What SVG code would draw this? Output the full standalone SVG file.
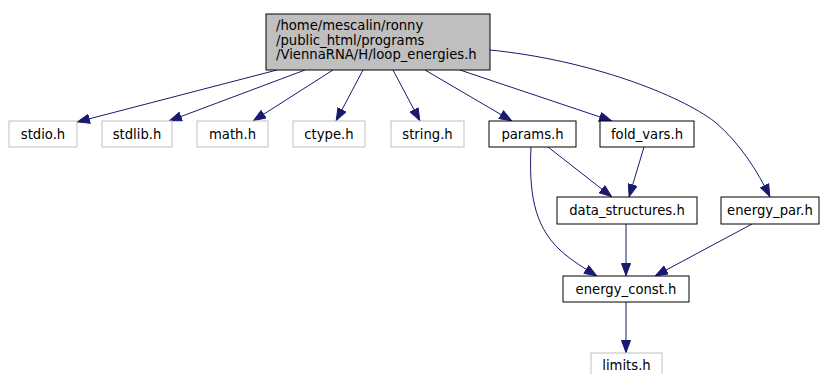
<svg xmlns="http://www.w3.org/2000/svg" width="820" height="374" viewBox="0 0 820 374">
<defs>
<style>
.n rect{fill:#ffffff;stroke:#000000;stroke-width:1}
.g rect{fill:#ffffff;stroke:#bfbfbf;stroke-width:1}
.root rect{fill:#bfbfbf;stroke:#000000;stroke-width:1}
text{font-family:"DejaVu Sans",sans-serif;font-size:13.2px;fill:#000000}
.c text{text-anchor:middle}
.e path{fill:none;stroke:#191970;stroke-width:1;marker-end:url(#ah)}
</style>
<marker id="ah" markerUnits="userSpaceOnUse" markerWidth="13" markerHeight="10" viewBox="0 0 13 10" refX="13" refY="5" orient="auto">
<path d="M0.5,0.5 L12.5,5 L0.5,9.5 z" fill="#191970" stroke="#191970" stroke-width="1"/>
</marker>
</defs>
<rect width="820" height="374" fill="#ffffff"/>
<g id="edges" class="e">
<path d="M277,70 L77,122"/>
<path d="M305,70 L169,121"/>
<path d="M333,70 L253,121"/>
<path d="M363,70 L336,121"/>
<path d="M393,70 L420,121"/>
<path d="M425,70 L512,121"/>
<path d="M460,70 L612,121"/>
<path d="M490,50 C590,60 680,95 715,122 C740,143 758,172 770,197"/>
<path d="M548,147 L612,197"/>
<path d="M644,147 L629,197"/>
<path d="M531,147 C529,190 533,225 560,250 C572,261 584,268 597,276"/>
<path d="M626,224 L626,276"/>
<path d="M752,224 L655,276"/>
<path d="M626,302 L626,353"/>
</g>
<g id="node-root" class="root">
<rect x="266" y="14" width="224" height="56"/>
<text x="276" y="30">/home/mescalin/ronny</text>
<text x="276" y="44.5">/public_html/programs</text>
<text x="276" y="59">/ViennaRNA/H/loop_energies.h</text>
</g>
<g id="node-stdio" class="g c"><rect x="9" y="121" width="68" height="26"/><text x="43" y="138.5">stdio.h</text></g>
<g id="node-stdlib" class="g c"><rect x="102" y="121" width="70" height="26"/><text x="137" y="138.5">stdlib.h</text></g>
<g id="node-math" class="g c"><rect x="197" y="121" width="71" height="26"/><text x="232.5" y="138.5">math.h</text></g>
<g id="node-ctype" class="g c"><rect x="293" y="121" width="72" height="26"/><text x="329" y="138.5">ctype.h</text></g>
<g id="node-string" class="g c"><rect x="391" y="121" width="73" height="26"/><text x="427.5" y="138.5">string.h</text></g>
<g id="node-params" class="n c"><rect x="489" y="121" width="87" height="26"/><text x="532.5" y="138.5">params.h</text></g>
<g id="node-fold_vars" class="n c"><rect x="600" y="121" width="94" height="26"/><text x="647" y="138.5">fold_vars.h</text></g>
<g id="node-data_structures" class="n c"><rect x="557" y="197" width="140" height="27"/><text x="627" y="215">data_structures.h</text></g>
<g id="node-energy_par" class="n c"><rect x="721" y="197" width="98" height="27"/><text x="770" y="215">energy_par.h</text></g>
<g id="node-energy_const" class="n c"><rect x="563" y="276" width="126" height="26"/><text x="626" y="293.5">energy_const.h</text></g>
<g id="node-limits" class="g c"><rect x="591" y="353" width="71" height="26"/><text x="626.5" y="370">limits.h</text></g>
</svg>
